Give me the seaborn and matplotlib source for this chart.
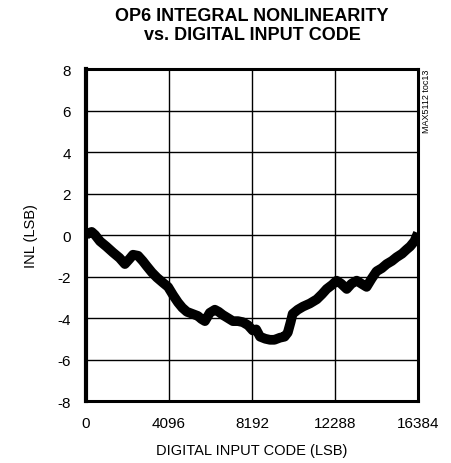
import matplotlib
matplotlib.use("Agg")
import matplotlib.pyplot as plt
import seaborn as sns
import pandas as pd

# Digital input code (LSB) and INL (LSB)
codes = [0, 150, 280, 450, 690, 1000, 1330, 1650, 1920, 2150, 2320, 2570, 2800,
         3000, 3250, 3500, 3800, 4050, 4300, 4540, 4750, 4980, 5250, 5520, 5700,
         5870, 6110, 6360, 6550, 6750, 7000, 7250, 7500, 7740, 8000, 8230, 8400,
         8590, 8850, 9080, 9300, 9570, 9800, 9960, 10100, 10200, 10450, 10710,
         11050, 11390, 11650, 11880, 12150, 12370, 12600, 12870, 13100, 13360,
         13600, 13850, 14100, 14340, 14600, 14840, 15100, 15330, 15600, 15820,
         16000, 16210, 16384]
inl = [0.0, 0.1, 0.15, 0.0, -0.3, -0.55, -0.84, -1.1, -1.4, -1.15, -0.95, -1.0,
       -1.25, -1.5, -1.8, -2.05, -2.3, -2.5, -2.9, -3.25, -3.5, -3.7, -3.8,
       -3.9, -4.05, -4.15, -3.75, -3.6, -3.7, -3.85, -4.0, -4.15, -4.15, -4.2,
       -4.35, -4.6, -4.55, -4.9, -5.0, -5.05, -5.05, -4.95, -4.9, -4.7, -4.2,
       -3.8, -3.6, -3.45, -3.3, -3.1, -2.85, -2.6, -2.4, -2.2, -2.35, -2.6,
       -2.35, -2.2, -2.35, -2.5, -2.1, -1.75, -1.6, -1.4, -1.25, -1.07, -0.9,
       -0.7, -0.55, -0.3, 0.1]

x_ticks = [0, 4096, 8192, 12288, 16384]
y_ticks = [-8, -6, -4, -2, 0, 2, 4, 6, 8]

df = pd.DataFrame({"code": codes, "inl": inl})

sns.set_style("white")
plt.rcParams["font.family"] = ["Liberation Sans", "DejaVu Sans"]
plt.rcParams["text.color"] = "black"
plt.rcParams["axes.labelcolor"] = "black"
plt.rcParams["xtick.color"] = "black"
plt.rcParams["ytick.color"] = "black"

fig = plt.figure(figsize=(4.51, 4.64), dpi=100)
ax = fig.add_axes([0.1907, 0.1336, 0.736, 0.7155])

sns.lineplot(data=df, x="code", y="inl", ax=ax, color="black", linewidth=7,
             solid_joinstyle="round", solid_capstyle="butt", zorder=3)

ax.set_xlim(0, 16384)
ax.set_ylim(-8, 8)
ax.set_xticks(x_ticks)
ax.set_yticks(y_ticks)
ax.set_xticklabels([str(t) for t in x_ticks])
ax.set_yticklabels([str(t) for t in y_ticks])
ax.grid(True, color="black", linewidth=1.0)
ax.tick_params(axis="both", length=0, labelsize=11, pad=11)
for s in ax.spines.values():
    s.set_visible(True)
    s.set_color("black")
    s.set_linewidth(2.2)
ax.spines["left"].set_linewidth(3)

ax.set_xlabel("DIGITAL INPUT CODE (LSB)", fontsize=10.5, labelpad=9)
ax.set_ylabel("INL (LSB)", fontsize=10.5, labelpad=14)

fig.text(0.5588, 0.982,
         "OP6 INTEGRAL NONLINEARITY\nvs. DIGITAL INPUT CODE",
         ha="center", va="top", fontsize=13, fontweight="heavy",
         linespacing=1.15)

ax.text(1.013, 1.0, "MAX5112 toc13", transform=ax.transAxes, rotation=90,
        ha="left", va="top", fontsize=6.5)

fig.savefig("out.png", dpi=100)
